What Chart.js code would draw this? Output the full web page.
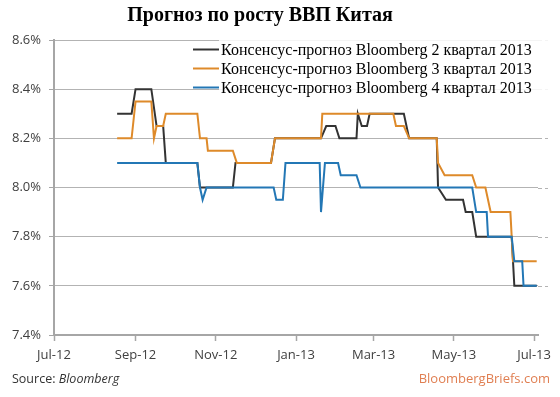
<!DOCTYPE html>
<html lang="ru">
<head>
<meta charset="UTF-8">
<title>Прогноз по росту ВВП Китая</title>
<script src="https://cdn.jsdelivr.net/npm/chart.js"></script>
<style>
    html, body { margin: 0; padding: 0; background: #fff; }
    .chart-container { position: relative; width: 560px; height: 397px; }
</style>
</head>
<body>
<div class="chart-container"><canvas id="gdpChart"></canvas></div>
<script>
    // Chart text
    const chartTitle = 'Прогноз по росту ВВП Китая';
    const seriesLabels = [
        'Консенсус-прогноз Bloomberg 2 квартал 2013',
        'Консенсус-прогноз Bloomberg 3 квартал 2013',
        'Консенсус-прогноз Bloomberg 4 квартал 2013'
    ];
    const sourceText = 'Source: ';
    const sourceName = 'Bloomberg';
    const brandText = 'BloombergBriefs.com';

    // X axis ticks
    const tickDates = ['2012-07-01', '2012-09-01', '2012-11-01', '2013-01-01', '2013-03-01', '2013-05-01', '2013-07-01'];
    const tickLabels = ['Jul-12', 'Sep-12', 'Nov-12', 'Jan-13', 'Mar-13', 'May-13', 'Jul-13'];
    const axisStart = '2012-07-01';
    const axisEnd = '2013-07-04';

    // Q2 2013 forecast (black)
    const q2Dates = ['2012-08-18', '2012-08-29', '2012-09-01', '2012-09-13', '2012-09-17', '2012-09-22', '2012-09-24',
        '2012-10-18', '2012-10-20', '2012-11-14', '2012-11-16', '2012-12-13', '2012-12-16', '2013-01-20', '2013-01-24',
        '2013-01-31', '2013-02-03', '2013-02-16', '2013-02-17', '2013-02-20', '2013-02-24', '2013-02-26', '2013-03-24',
        '2013-03-28', '2013-04-18', '2013-04-19', '2013-04-25', '2013-05-08', '2013-05-10', '2013-05-15', '2013-05-18',
        '2013-06-14', '2013-06-16', '2013-07-03'];
    const q2Values = [8.3, 8.3, 8.4, 8.4, 8.25, 8.25, 8.1,
        8.1, 8.0, 8.0, 8.1, 8.1, 8.2, 8.2, 8.25,
        8.25, 8.2, 8.2, 8.3, 8.25, 8.25, 8.3, 8.3,
        8.2, 8.2, 8.0, 7.95, 7.95, 7.9, 7.9, 7.8,
        7.8, 7.6, 7.6];

    // Q3 2013 forecast (orange)
    const q3Dates = ['2012-08-18', '2012-08-29', '2012-09-01', '2012-09-13', '2012-09-15', '2012-09-17', '2012-09-22',
        '2012-09-24', '2012-10-18', '2012-10-20', '2012-10-25', '2012-10-26', '2012-11-14', '2012-11-17', '2012-12-13',
        '2012-12-16', '2013-01-20', '2013-01-21', '2013-03-16', '2013-03-18', '2013-03-24', '2013-03-28', '2013-04-18',
        '2013-04-19', '2013-04-24', '2013-05-15', '2013-05-18', '2013-05-25', '2013-05-29', '2013-06-13', '2013-06-15',
        '2013-07-03'];
    const q3Values = [8.2, 8.2, 8.35, 8.35, 8.2, 8.25, 8.25,
        8.3, 8.3, 8.2, 8.2, 8.15, 8.15, 8.1, 8.1,
        8.2, 8.2, 8.3, 8.3, 8.25, 8.25, 8.2, 8.2,
        8.1, 8.05, 8.05, 8.0, 8.0, 7.9, 7.9, 7.7,
        7.7];

    // Q4 2013 forecast (blue)
    const q4Dates = ['2012-08-18', '2012-10-18', '2012-10-20', '2012-10-22', '2012-10-25', '2012-12-15', '2012-12-17',
        '2012-12-22', '2012-12-24', '2013-01-19', '2013-01-20', '2013-01-23', '2013-02-02', '2013-02-04', '2013-02-16',
        '2013-02-19', '2013-05-15', '2013-05-18', '2013-05-26', '2013-05-27', '2013-06-14', '2013-06-16', '2013-06-22',
        '2013-06-23', '2013-07-03'];
    const q4Values = [8.1, 8.1, 8.0, 7.95, 8.0, 8.0, 7.95,
        7.95, 8.1, 8.1, 7.9, 8.1, 8.1, 8.05, 8.05,
        8.0, 8.0, 7.9, 7.9, 7.8, 7.8, 7.7, 7.7,
        7.6, 7.6];

    const colors = ['#333333', '#de8a2a', '#2377b5'];
    const gridColor = '#b3b3b3';

    // days since the start of the axis
    function dayOf(d) {
        return (Date.parse(d) - Date.parse(axisStart)) / 86400000;
    }

    function toPoints(dates, values) {
        return dates.map((d, i) => ({ x: dayOf(d), y: values[i] }));
    }

    // dashed gridlines run a bit past the end of the x axis
    const gridTail = {
        id: 'gridTail',
        beforeDatasetsDraw(chart) {
            const ctx = chart.ctx;
            const area = chart.chartArea;
            const yScale = chart.scales.y;
            ctx.save();
            ctx.strokeStyle = gridColor;
            ctx.lineWidth = 1;
            ctx.setLineDash([4, 3]);
            yScale.ticks.forEach(t => {
                if (t.value <= yScale.min) return;
                const y = Math.round(yScale.getPixelForValue(t.value)) + 0.5;
                ctx.beginPath();
                ctx.moveTo(area.right, y);
                ctx.lineTo(area.right + 10, y);
                ctx.stroke();
            });
            ctx.restore();
        }
    };

    // Title, legend and footer drawn by hand
    const textPlugin = {
        id: 'texts',
        afterDatasetsDraw(chart) {
            const ctx = chart.ctx;
            const area = chart.chartArea;
            ctx.save();

            // legend background
            ctx.fillStyle = 'rgba(255,255,255,0.85)';
            ctx.fillRect(area.left + 165, area.top - 4, area.right - area.left - 165 + 12, 58);

            ctx.font = '16px "Liberation Serif", serif';
            ctx.textBaseline = 'middle';
            ctx.textAlign = 'left';
            seriesLabels.forEach((label, i) => {
                const y = area.top + 9.5 + i * 19;
                ctx.strokeStyle = colors[i];
                ctx.lineWidth = 2;
                ctx.beginPath();
                ctx.moveTo(area.left + 139, y);
                ctx.lineTo(area.left + 165, y);
                ctx.stroke();
                ctx.fillStyle = '#000';
                ctx.fillText(label, area.left + 167, y + 1);
            });

            // title
            ctx.font = 'bold 20px "Liberation Serif", serif';
            ctx.textAlign = 'center';
            ctx.fillStyle = '#000';
            ctx.fillText(chartTitle, 260, 16);

            // footer
            const fy = chart.height - 18;
            ctx.textAlign = 'left';
            ctx.fillStyle = '#333';
            ctx.font = '12.5px "Open Sans", sans-serif';
            ctx.fillText(sourceText, 12, fy);
            const w = ctx.measureText(sourceText).width;
            ctx.font = 'italic 12.5px "Open Sans", sans-serif';
            ctx.fillText(sourceName, 12 + w, fy);

            ctx.textAlign = 'right';
            ctx.fillStyle = '#e07f52';
            ctx.font = '13px "Open Sans", sans-serif';
            ctx.fillText(brandText, 550, fy);
            ctx.restore();
        }
    };

    const ctxLine = document.getElementById('gdpChart').getContext('2d');
    const chart = new Chart(ctxLine, {
        type: 'line',
        data: {
            datasets: [
                { label: seriesLabels[0], data: toPoints(q2Dates, q2Values), borderColor: colors[0], order: 3 },
                { label: seriesLabels[1], data: toPoints(q3Dates, q3Values), borderColor: colors[1], order: 2 },
                { label: seriesLabels[2], data: toPoints(q4Dates, q4Values), borderColor: colors[2], order: 1 }
            ]
        },
        options: {
            responsive: true,
            maintainAspectRatio: false,
            animation: false,
            elements: {
                line: { borderWidth: 2, tension: 0, fill: false },
                point: { radius: 0 }
            },
            layout: { padding: { top: 40, right: 22, bottom: 30, left: 0 } },
            plugins: {
                legend: { display: false },
                tooltip: { enabled: false }
            },
            scales: {
                x: {
                    type: 'linear',
                    min: 0,
                    max: dayOf(axisEnd),
                    afterBuildTicks(scale) {
                        scale.ticks = tickDates.map(d => ({ value: dayOf(d) }));
                    },
                    afterFit(scale) { scale.height = 32; },
                    ticks: {
                        callback: (v, i) => tickLabels[i],
                        color: '#404040',
                        font: { family: '"Open Sans", sans-serif', size: 13 },
                        padding: 6,
                        maxRotation: 0,
                        autoSkip: false
                    },
                    grid: {
                        drawOnChartArea: false,
                        drawTicks: true,
                        tickLength: 6,
                        tickColor: '#a6a6a6',
                        tickWidth: 1.5
                    },
                    border: { display: true, color: '#a6a6a6', width: 2 }
                },
                y: {
                    min: 7.4,
                    max: 8.6,
                    afterFit(scale) { scale.width = 54; },
                    ticks: {
                        stepSize: 0.2,
                        callback: v => v.toFixed(1) + '%',
                        color: '#404040',
                        font: { family: '"Open Sans", sans-serif', size: 13 },
                        padding: 8
                    },
                    grid: {
                        color: gridColor,
                        borderDash: [4, 3],
                        tickBorderDash: [],
                        tickColor: '#a6a6a6',
                        tickLength: 5,
                        lineWidth: 1
                    },
                    border: { display: true, color: '#a6a6a6', width: 2 }
                }
            }
        },
        plugins: [gridTail, textPlugin]
    });
</script>
</body>
</html>
